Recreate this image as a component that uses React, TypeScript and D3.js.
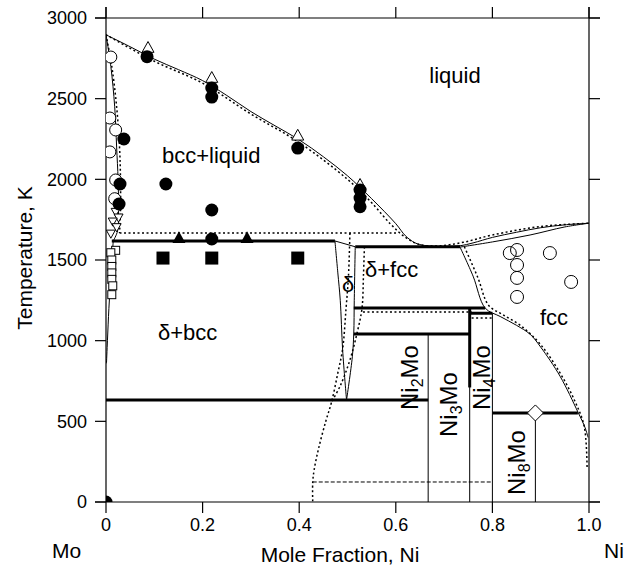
import React from "react";
import * as d3 from "d3";

const width = 626;
const height = 573;
const FONT = "'Liberation Sans', Arial, Helvetica, sans-serif";

// axes
const xTicks = [0, 0.2, 0.4, 0.6, 0.8, 1.0];
const xTickLabels = ["0", "0.2", "0.4", "0.6", "0.8", "1.0"];
const yTicks = [0, 500, 1000, 1500, 2000, 2500, 3000];

// calculated boundaries (solid), [x Ni, T K]
const liquidus = [[0, 2896], [0.05, 2822], [0.1, 2745], [0.15, 2680], [0.2, 2612], [0.25, 2520], [0.3, 2420], [0.35, 2332], [0.4, 2245], [0.45, 2140], [0.5, 2022], [0.55, 1880], [0.6, 1725], [0.62, 1650], [0.64, 1606], [0.66, 1590], [0.7, 1584], [0.733, 1588], [0.76, 1606], [0.8, 1640], [0.85, 1672], [0.9, 1700], [0.95, 1718], [1.0, 1728]];
const fccSolidus = [[0.733, 1580], [0.8, 1612], [0.878, 1655], [0.95, 1705], [1.0, 1728]];
const bccSolidus = [[0, 2896], [0.01, 2700], [0.018, 2450], [0.022, 2200], [0.025, 2000], [0.026, 1800], [0.024, 1680], [0.015, 1618]];
const bccSolvus = [[0.015, 1618], [0.01, 1400], [0.006, 1200], [0.003, 1000], [0.001, 860]];
const deltaLeft = [[0.474, 1618], [0.48, 1420], [0.485, 1250], [0.49, 940], [0.498, 632]];
const deltaRight = [[0.516, 1582], [0.514, 1250], [0.513, 1047], [0.51, 900], [0.498, 632]];
const deltaTop = [[0.474, 1618], [0.516, 1582]];
const fccSolvus = [[0.733, 1580], [0.76, 1400], [0.785, 1202], [0.816, 1150], [0.85, 1095], [0.878, 1040], [0.9, 960], [0.94, 780], [0.977, 558], [0.992, 460], [0.998, 400]];
const ni2MoLine = [[0.667, 1041], [0.667, 0]];
const ni3MoLine = [[0.753, 1202], [0.753, 0]];
const ni4MoLine = [[0.8, 1170], [0.8, 0]];
const ni8MoLine = [[0.889, 552], [0.889, 0]];

// invariant reactions (thick)
const peritectic = [[0.012, 1618], [0.474, 1618]];
const deltaFccTop = [[0.516, 1582], [0.733, 1582]];
const deltaFccBottom = [[0.513, 1202], [0.785, 1202]];
const ni2MoTop = [[0.513, 1041], [0.753, 1041]];
const ni4MoTop = [[0.753, 1170], [0.8, 1170]];
const ni3MoThick = [[0.753, 1202], [0.753, 710]];
const eutectoid = [[0, 632], [0.667, 632]];
const ni8MoTop = [[0.8, 552], [0.977, 552]];

// other assessment (dotted)
const liquidusDot = [[0, 2896], [0.1, 2732], [0.2, 2596], [0.3, 2405], [0.4, 2228], [0.5, 2000], [0.55, 1855], [0.59, 1720], [0.62, 1640], [0.65, 1595], [0.69, 1588], [0.74, 1610], [0.8, 1655], [0.9, 1708], [1.0, 1728]];
const bccSolidusDot = [[0, 2896], [0.012, 2700], [0.022, 2450], [0.028, 2200], [0.03, 2000], [0.03, 1800], [0.028, 1667]];
const peritecticDot = [[0.028, 1667], [0.605, 1667]];
const deltaLeftDot = [[0.505, 1667], [0.502, 1400], [0.497, 1200], [0.49, 950], [0.48, 800], [0.467, 620], [0.455, 500], [0.44, 330], [0.431, 200], [0.428, 124], [0.428, 0]];
const deltaRightDot = [[0.535, 1582], [0.533, 1400], [0.53, 1200], [0.52, 1050], [0.505, 880], [0.485, 720], [0.467, 620]];
const ni3MoDot = [[0.532, 1178], [0.757, 1178]];
const ni4MoDot = [[0.757, 1140], [0.8, 1140]];
const fccSolvusDot = [[0.742, 1582], [0.77, 1390], [0.792, 1220], [0.822, 1160], [0.86, 1090], [0.9, 975], [0.94, 800], [0.97, 630], [0.99, 470], [0.996, 217]];
// low temperature line (dashed)
const lowLine = [[0.428, 124], [0.8, 124]];

// experimental points
const filledCircles = [[0.085, 2760], [0.219, 2566], [0.219, 2510], [0.397, 2194], [0.526, 1934], [0.526, 1884], [0.526, 1830], [0.037, 2250], [0.029, 1971], [0.124, 1971], [0.027, 1847], [0.219, 1810], [0.219, 1630], [0, 0]];
const openTriangles = [[0.087, 2814], [0.219, 2628], [0.397, 2270], [0.526, 1965]];
const filledTriangles = [[0.151, 1634], [0.292, 1634]];
const filledSquares = [[0.118, 1512], [0.219, 1512], [0.397, 1512]];
const openCirclesMo = [[0.01, 2758], [0.008, 2380], [0.02, 2306], [0.008, 2170], [0.02, 1996], [0.018, 1880]];
const downTriangles = [[0.02, 1800], [0.026, 1765], [0.014, 1740], [0.022, 1705], [0.01, 1665]];
const openSquares = [[0.02, 1560], [0.01, 1545], [0.012, 1500], [0.012, 1460], [0.012, 1420], [0.012, 1380], [0.014, 1340], [0.012, 1285]];
const openCirclesNi = [[0.836, 1543], [0.851, 1562], [0.851, 1469], [0.851, 1389], [0.851, 1271], [0.919, 1543], [0.963, 1364]];
const diamonds = [[0.889, 552]];

const x = d3.scaleLinear().domain([0, 1]).range([106, 589]);
const y = d3.scaleLinear().domain([0, 3000]).range([502, 18]);

const line = d3
  .line<number[]>()
  .x(d => x(d[0]))
  .y(d => y(d[1]))
  .curve(d3.curveCatmullRom.alpha(0.5));

const thin = [liquidus, fccSolidus, bccSolidus, bccSolvus, deltaLeft, deltaRight, deltaTop, fccSolvus, ni2MoLine, ni3MoLine, ni4MoLine, ni8MoLine];
const thick = [peritectic, deltaFccTop, deltaFccBottom, ni2MoTop, ni4MoTop, ni3MoThick, eutectoid, ni8MoTop];
const dotted = [liquidusDot, bccSolidusDot, peritecticDot, deltaLeftDot, deltaRightDot, ni3MoDot, ni4MoDot, fccSolvusDot];

const tri = (cx: number, cy: number, s: number, down = false) => {
  const h = s * 0.9;
  const k = down ? -1 : 1;
  return `M${cx},${cy - k * h * 0.6} L${cx + s / 2},${cy + k * h * 0.4} L${cx - s / 2},${cy + k * h * 0.4} Z`;
};

const Sub = ({ base, sub, tail }: { base: string; sub: string; tail: string }) => (
  <>
    {base}
    <tspan dy={5} fontSize={16}>{sub}</tspan>
    <tspan dy={-5}>{tail}</tspan>
  </>
);

const App = () => {
  const lbl = { fontFamily: FONT, fontSize: 22, fill: "#000" };
  return (
    <svg width={width} height={height} style={{ position: "absolute", left: 0, top: 0, background: "#fff" }}>
      <defs>
        <clipPath id="plot">
          <rect x={106} y={18} width={483} height={484} />
        </clipPath>
      </defs>

      {/* frame and ticks */}
      <g stroke="#000" strokeWidth={1.2}>
        <line x1={95} x2={600} y1={y(3000)} y2={y(3000)} />
        <line x1={95} x2={600} y1={y(0)} y2={y(0)} />
        <line x1={x(0)} x2={x(0)} y1={7} y2={y(0)} />
        <line x1={x(1)} x2={x(1)} y1={7} y2={y(0)} />
        {yTicks.map(t => (
          <g key={"y" + t}>
            <line x1={95} x2={x(0)} y1={y(t)} y2={y(t)} />
            <line x1={x(1)} x2={600} y1={y(t)} y2={y(t)} />
          </g>
        ))}
        {xTicks.map(t => (
          <g key={"x" + t}>
            <line x1={x(t)} x2={x(t)} y1={y(0)} y2={y(0) + 11} />
            <line x1={x(t)} x2={x(t)} y1={y(3000)} y2={y(3000) - 11} />
          </g>
        ))}
      </g>
      <g fontFamily={FONT} fontSize={18}>
        {yTicks.map(t => (
          <text key={t} x={87} y={y(t)} dy="0.35em" textAnchor="end">{t}</text>
        ))}
        {xTicks.map((t, i) => (
          <text key={t} x={x(t)} y={531} textAnchor="middle">{xTickLabels[i]}</text>
        ))}
      </g>
      <text {...lbl} fontSize={21} x={340} y={562} textAnchor="middle">Mole Fraction, Ni</text>
      <text {...lbl} fontSize={21} x={52} y={558}>Mo</text>
      <text {...lbl} fontSize={21} x={604} y={558}>Ni</text>
      <text {...lbl} fontSize={21} transform="translate(32,258) rotate(-90)" textAnchor="middle">Temperature, K</text>

      <g clipPath="url(#plot)" fill="none" stroke="#000">
        {thin.map((c, i) => <path key={"t" + i} d={line(c) || ""} strokeWidth={1} />)}
        {thick.map((c, i) => <path key={"k" + i} d={line(c) || ""} strokeWidth={3} />)}
        {dotted.map((c, i) => <path key={"d" + i} d={line(c) || ""} strokeWidth={1.5} strokeDasharray="2,2.5" />)}
        <path d={line(lowLine) || ""} strokeWidth={1} strokeDasharray="4,2" />

        {openCirclesMo.map((d, i) => <circle key={"oc" + i} cx={x(d[0])} cy={y(d[1])} r={6} fill="#fff" strokeWidth={1} />)}
        {downTriangles.map((d, i) => <path key={"dt" + i} d={tri(x(d[0]), y(d[1]), 9, true)} fill="#fff" strokeWidth={1} />)}
        {openSquares.map((d, i) => <rect key={"os" + i} x={x(d[0]) - 4} y={y(d[1]) - 4} width={8} height={8} fill="#fff" strokeWidth={1} />)}
        {openTriangles.map((d, i) => <path key={"ot" + i} d={tri(x(d[0]), y(d[1]), 12)} fill="#fff" strokeWidth={1} />)}
        {filledCircles.map((d, i) => <circle key={"fc" + i} cx={x(d[0])} cy={y(d[1])} r={6.5} fill="#000" stroke="none" />)}
        {filledTriangles.map((d, i) => <path key={"ft" + i} d={tri(x(d[0]), y(d[1]), 13)} fill="#000" stroke="none" />)}
        {filledSquares.map((d, i) => <rect key={"fs" + i} x={x(d[0]) - 6.5} y={y(d[1]) - 6.5} width={13} height={13} fill="#000" stroke="none" />)}
        {openCirclesNi.map((d, i) => <circle key={"on" + i} cx={x(d[0])} cy={y(d[1])} r={6.5} fill="none" strokeWidth={1} />)}
        {diamonds.map((d, i) => (
          <path key={"di" + i} d={`M${x(d[0])},${y(d[1]) - 8} l8,8 l-8,8 l-8,-8 Z`} fill="#fff" strokeWidth={1} />
        ))}
      </g>

      <g {...lbl}>
        <text x={455} y={83} textAnchor="middle">liquid</text>
        <text x={162} y={163}>bcc+liquid</text>
        <text x={158} y={340}>δ+bcc</text>
        <text x={342} y={292}>δ</text>
        <text x={365} y={277}>δ+fcc</text>
        <text x={540} y={325}>fcc</text>
        <text fontSize={24} transform="translate(418,410) rotate(-90)"><Sub base="Ni" sub="2" tail="Mo" /></text>
        <text fontSize={24} transform="translate(457,437) rotate(-90)"><Sub base="Ni" sub="3" tail="Mo" /></text>
        <text fontSize={24} transform="translate(490,410) rotate(-90)"><Sub base="Ni" sub="4" tail="Mo" /></text>
        <text fontSize={24} transform="translate(525,495) rotate(-90)"><Sub base="Ni" sub="8" tail="Mo" /></text>
      </g>
    </svg>
  );
};

export default App;
